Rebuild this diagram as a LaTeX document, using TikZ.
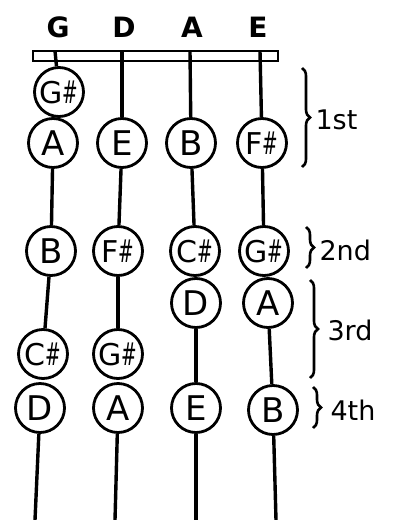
\documentclass[tikz,border=0pt]{standalone}
\usepackage{fontspec}
\setmainfont{DejaVu Sans}
\usetikzlibrary{decorations.pathreplacing}
\newcommand{\shp}{\scalebox{0.62}[1.05]{\#}}
\begin{document}
\begin{tikzpicture}[x=1pt,y=-1pt,
  note/.style={circle,draw,line width=2.8pt,minimum size=49pt,inner sep=0pt,font=\fontsize{34}{34}\selectfont},
  sharp/.style={note,font=\fontsize{30}{30}\selectfont},
  str/.style={line width=3.4pt},
  strname/.style={font=\fontsize{28}{28}\selectfont\bfseries},
  poslabel/.style={font=\fontsize{27}{27}\selectfont,anchor=west},
  brc/.style={decorate,decoration={brace,amplitude=8pt},line width=2.6pt}]
\useasboundingbox (0,0) rectangle (394,520);
% string names
\node[strname] (nG) at (58,27) {G};
\node[strname] (nD) at (124,27) {D};
\node[strname] (nA) at (192,27) {A};
\node[strname] (nE) at (258,27) {E};
% nut
\node[draw,line width=2.8pt,minimum width=245pt,minimum height=10pt,inner sep=0pt] (nut) at (155.5,56) {};
\coordinate (tG) at (55,51);
\coordinate (tD) at (122,51);
\coordinate (tA) at (190,51);
\coordinate (tE) at (260,51);
\coordinate (bG) at (35,520);
\coordinate (bD) at (115,520);
\coordinate (bA) at (196,520);
\coordinate (bE) at (276,520);
% notes
\node[sharp] (g1) at (59,92) {G\shp};
\node[note] (g2) at (53,143) {A};
\node[note] (g3) at (51,251) {B};
\node[sharp] (g4) at (43,354) {C\shp};
\node[note] (g5) at (40,408) {D};
\node[note] (d1) at (122,143) {E};
\node[sharp] (d2) at (118,251) {F\shp};
\node[sharp] (d3) at (118,354) {G\shp};
\node[note] (d4) at (118,408) {A};
\node[note] (a1) at (191,143) {B};
\node[sharp] (a2) at (195,251) {C\shp};
\node[note] (a3) at (196,303) {D};
\node[note] (a4) at (196,408) {E};
\node[sharp] (e1) at (262,143) {F\shp};
\node[sharp] (e2) at (264,251) {G\shp};
\node[note] (e3) at (268,303) {A};
\node[note] (e4) at (273,410) {B};
% strings
\draw[str] (tG) -- (g1);
\draw[str] (g2) -- (g3);
\draw[str] (g3) -- (g4);
\draw[str] (g5) -- (bG);
\draw[str] (tD) -- (d1);
\draw[str] (d1) -- (d2);
\draw[str] (d2) -- (d3);
\draw[str] (d4) -- (bD);
\draw[str] (tA) -- (a1);
\draw[str] (a1) -- (a2);
\draw[str] (a3) -- (a4);
\draw[str] (a4) -- (bA);
\draw[str] (tE) -- (e1);
\draw[str] (e1) -- (e2);
\draw[str] (e3) -- (e4);
\draw[str] (e4) -- (bE);
% braces
\coordinate (b1s) at (302,68);  \coordinate (b1e) at (302,167);
\coordinate (b2s) at (306,227); \coordinate (b2e) at (306,268);
\coordinate (b3s) at (310,280); \coordinate (b3e) at (310,378);
\coordinate (b4s) at (313,387); \coordinate (b4e) at (313,428);
\draw[brc] (b1s) -- (b1e);
\draw[brc] (b2s) -- (b2e);
\draw[brc] (b3s) -- (b3e);
\draw[brc] (b4s) -- (b4e);
\node[poslabel] (p1) at (312,120) {1st};
\node[poslabel] (p2) at (316,250) {2nd};
\node[poslabel] (p3) at (324,330) {3rd};
\node[poslabel] (p4) at (327,410) {4th};
\end{tikzpicture}
\end{document}
